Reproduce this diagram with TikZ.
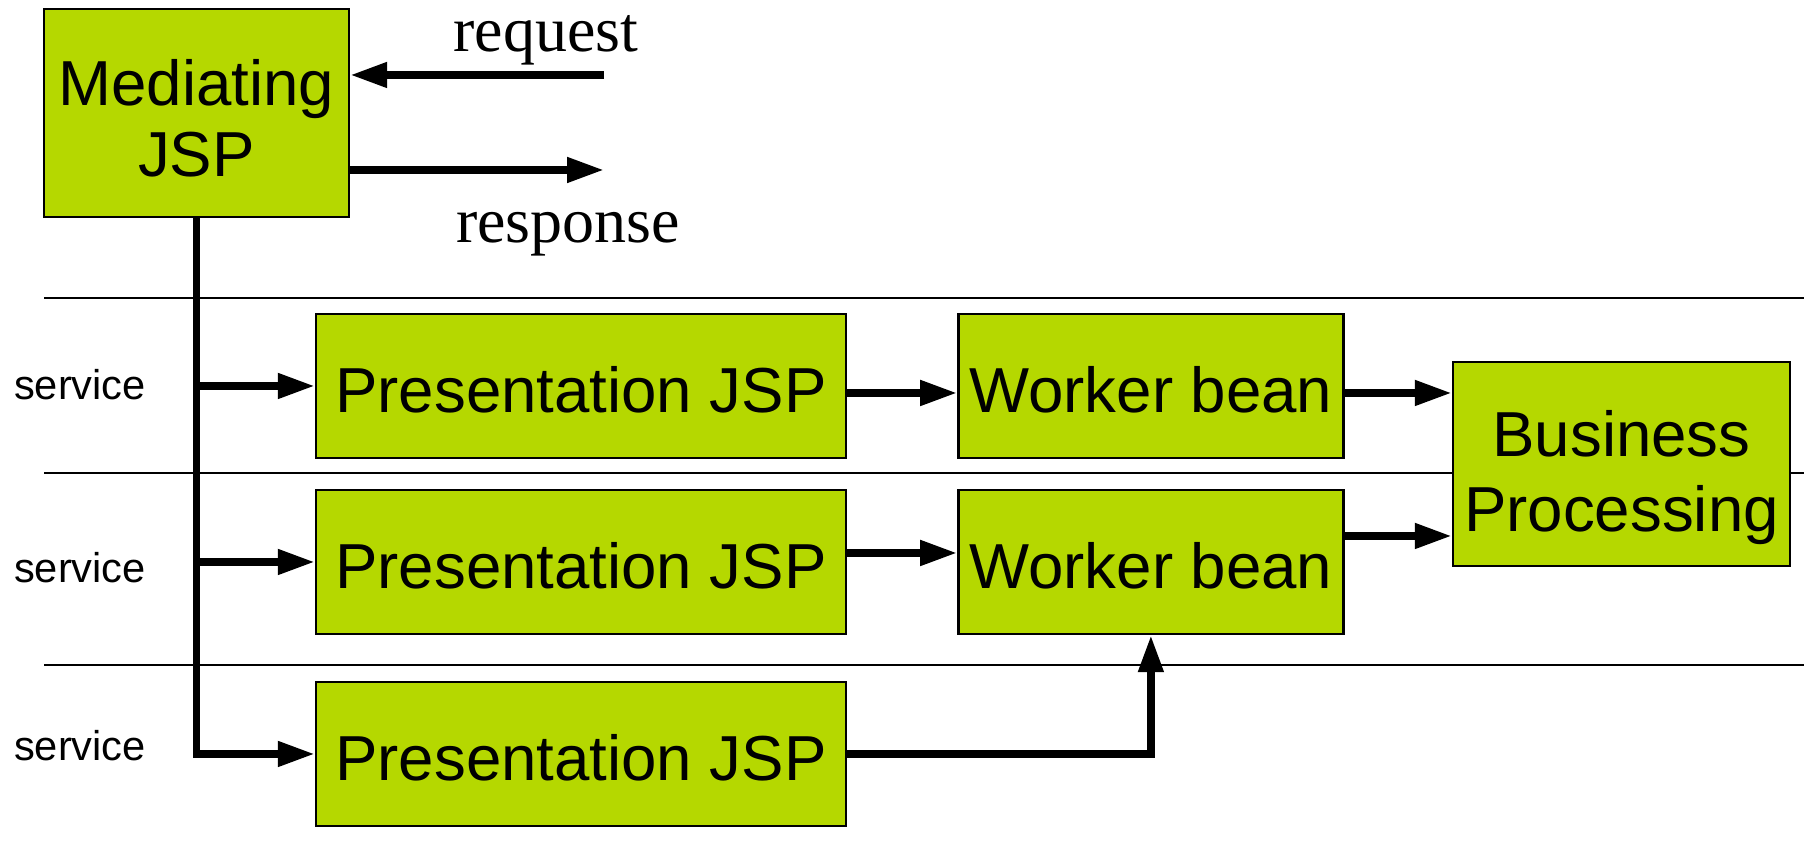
\documentclass[tikz,border=0pt]{standalone}
\usepackage{fontspec}
\setmainfont{Liberation Serif}
\setsansfont{Liberation Sans}
\usetikzlibrary{positioning, arrows.meta}
\definecolor{jspgreen}{RGB}{181,216,0}

\tikzset{
  block/.style={draw, line width=0.6pt, fill=jspgreen, inner sep=0pt, align=center,
    font=\sffamily\fontsize{15.9}{17.9}\selectfont},
  pjsp/.style={block, minimum width=132.5pt, minimum height=36pt, text height=13.35pt, text depth=0pt},
  worker/.style={block, minimum width=96.25pt, minimum height=36pt, text height=13.35pt, text depth=0pt},
  flow/.style={line width=1.9pt, -{Triangle[length=9.25pt,width=6pt]}},
  lane/.style={line width=0.65pt},
  svc/.style={font=\sffamily\fontsize{10.4}{12}\selectfont},
  msg/.style={font=\rmfamily\fontsize{16}{19}\selectfont, anchor=base},
}
% invisible strut that pushes a two-line label down
\newcommand{\toplift}[1]{\rule{0pt}{#1}}

\begin{document}
\begin{tikzpicture}[x=0.25pt, y=-0.25pt]
\useasboundingbox (0,0) rectangle (1804,841);
% lanes
\draw[lane] (44,298) -- (1804,298);
\draw[lane] (44,473) -- (1804,473);
\draw[lane] (44,665) -- (1804,665);

\node[block, minimum width=76.25pt, minimum height=52pt] (med) at (196.5,113) {\toplift{14.25pt}Mediating\\JSP};
\node[pjsp] (pj1) at (581,386) {Presentation JSP};
\node[pjsp] (pj2) at (581,562) {Presentation JSP};
\node[pjsp] (pj3) at (581,754) {Presentation JSP};
\node[worker, right=27.5pt of pj1] (wb1) {Worker bean};
\node[worker, right=27.5pt of pj2] (wb2) {Worker bean};
\node[block, minimum width=84.25pt, minimum height=51pt, font=\sffamily\fontsize{15.9}{18.75}\selectfont]
  (bp) at (1621.5,464) {\toplift{18.25pt}Business\\Processing};

\node[msg] (reqlbl) at (546,52) {request};
\node[msg] (resplbl) at (568,243) {response};
\coordinate (req) at (604,75);
\coordinate (resp) at (604,170);

\node[svc] (s1) at (80,385) {service};
\node[svc] (s2) at (80,568) {service};
\node[svc] (s3) at (80,746) {service};

% request / response
\draw[flow] (req) -- (req -| med.east);
\draw[flow] (resp -| med.east) -- (resp);

% service bus
\draw[flow] (med.south) |- (pj3.west);
\draw[flow] (med.south |- pj1.west) -- (pj1.west);
\draw[flow] (med.south |- pj2.west) -- (pj2.west);

% presentation to worker
\draw[flow] ([yshift=-1.75pt]pj1.east) -- ([yshift=-1.75pt]wb1.west);
\draw[flow] ([yshift=2.25pt]pj2.east) -- ([yshift=2.25pt]wb2.west);
\draw[flow] (pj3.east) -| (wb2.south);

% worker to business
\draw[flow] ([yshift=-1.75pt]wb1.east) -- ([yshift=-1.75pt]wb1.east -| bp.west);
\draw[flow] ([yshift=6.5pt]wb2.east) -- ([yshift=6.5pt]wb2.east -| bp.west);
\end{tikzpicture}
\end{document}
